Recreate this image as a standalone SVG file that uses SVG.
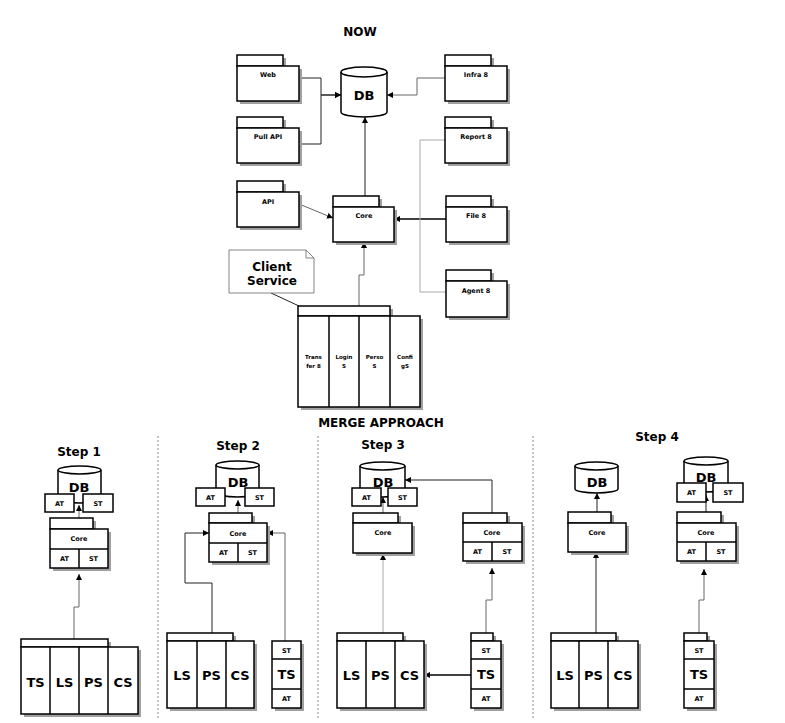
<svg xmlns="http://www.w3.org/2000/svg" width="785" height="723" viewBox="0 0 785 723">
<style>
.b{fill:#fff;stroke:#000;stroke-width:1.5}
.sh{fill:#a0a0a0}
.t{font-family:"DejaVu Sans",Verdana,sans-serif;font-weight:bold;text-anchor:middle;fill:#000}
.s{font-size:6.5px}
.xs{font-size:5.5px}
.m{font-size:12px}
.l{font-size:13px}
.c{fill:none;stroke:#222;stroke-width:1}
.g{fill:none;stroke:#666;stroke-width:1}
.lg{fill:none;stroke:#aaa;stroke-width:1}
.k{fill:none;stroke:#000;stroke-width:1.3}
.d{fill:none;stroke:#888;stroke-width:1;stroke-dasharray:2,2}
</style>
<defs>
<marker id="a" viewBox="0 0 6 6" refX="6" refY="3" markerWidth="6" markerHeight="6" markerUnits="userSpaceOnUse" orient="auto"><path d="M0,0L6,3L0,6z" fill="#000"/></marker>
</defs>
<rect width="785" height="723" fill="#fff"/>

<text class="t m" x="360" y="36">NOW</text>
<text class="t m" x="381" y="427">MERGE APPROACH</text>

<g id="dividers">
<line class="d" x1="158" y1="436" x2="158" y2="718"/>
<line class="d" x1="318" y1="436" x2="318" y2="718"/>
<line class="d" x1="533" y1="436" x2="533" y2="718"/>
</g>

<g id="connectors">
<polyline class="c" points="299,78 321,78 321,95 341,95" marker-end="url(#a)"/>
<polyline class="c" points="299,144 321,144 321,95 341,95" marker-end="url(#a)"/>
<polyline class="g" points="445,78 417,78 417,95 387,95" marker-end="url(#a)"/>
<line class="c" x1="365" y1="196" x2="365" y2="117" marker-end="url(#a)"/>
<line class="g" x1="299" y1="204" x2="333" y2="218" marker-end="url(#a)"/>
<line class="k" x1="446" y1="219" x2="394" y2="219" marker-end="url(#a)"/>
<polyline class="lg" points="445,140 420,140 420,292 446,292"/>
<polyline class="g" points="359,306 359,275 364,275 364,242" marker-end="url(#a)"/>
<line class="c" x1="271" y1="293" x2="299" y2="306"/>

<line class="g" x1="79" y1="518" x2="79" y2="505" marker-end="url(#a)"/>
<polyline class="g" points="74,639 74,607 79,607 79,574" marker-end="url(#a)"/>

<line class="g" x1="238" y1="513" x2="238" y2="500" marker-end="url(#a)"/>
<polyline class="c" points="212,633 212,583 185,583 185,533 209,533" marker-end="url(#a)"/>
<polyline class="g" points="285,641 285,533 267,533" marker-end="url(#a)"/>

<line class="g" x1="383" y1="513" x2="383" y2="497" marker-end="url(#a)"/>
<polyline class="c" points="492,513 492,480 405,480" marker-end="url(#a)"/>
<line class="lg" x1="383" y1="633" x2="383" y2="554" marker-end="url(#a)"/>
<polyline class="g" points="486,633 486,600 492,600 492,568" marker-end="url(#a)"/>
<line class="k" x1="471" y1="675" x2="424" y2="675" marker-end="url(#a)"/>

<line class="c" x1="597" y1="512" x2="597" y2="493" marker-end="url(#a)"/>
<line class="c" x1="706" y1="512" x2="706" y2="495" marker-end="url(#a)"/>
<line class="c" x1="596" y1="633" x2="596" y2="552" marker-end="url(#a)"/>
<polyline class="g" points="699,633 699,600 704,600 704,569" marker-end="url(#a)"/>
</g>

<g id="db-now">
<path class="b" d="M341,72a23,5 0 0 1 46,0V112a23,5 0 0 1 -46,0Z"/>
<path class="b" d="M341,72a23,5 0 0 0 46,0"/>
<text class="t l" x="364" y="100">DB</text>
</g>

<g id="web">
<rect class="sh" x="240" y="58" width="46" height="11"/><rect class="sh" x="240" y="69" width="62" height="35"/>
<rect class="b" x="237" y="55" width="46" height="11"/><rect class="b" x="237" y="66" width="62" height="35"/>
<text class="t s" x="268" y="77">Web</text>
</g>
<g id="pullapi">
<rect class="sh" x="240" y="120" width="46" height="11"/><rect class="sh" x="240" y="131" width="62" height="35"/>
<rect class="b" x="237" y="117" width="46" height="11"/><rect class="b" x="237" y="128" width="62" height="35"/>
<text class="t s" x="268" y="139">Pull API</text>
</g>
<g id="infra8">
<rect class="sh" x="448" y="58" width="46" height="11"/><rect class="sh" x="448" y="69" width="62" height="35"/>
<rect class="b" x="445" y="55" width="46" height="11"/><rect class="b" x="445" y="66" width="62" height="35"/>
<text class="t s" x="476" y="77">Infra 8</text>
</g>
<g id="report8">
<rect class="sh" x="448" y="120" width="46" height="11"/><rect class="sh" x="448" y="131" width="62" height="35"/>
<rect class="b" x="445" y="117" width="46" height="11"/><rect class="b" x="445" y="128" width="62" height="35"/>
<text class="t s" x="476" y="139">Report 8</text>
</g>
<g id="api">
<rect class="sh" x="240" y="184" width="46" height="11"/><rect class="sh" x="240" y="195" width="62" height="35"/>
<rect class="b" x="237" y="181" width="46" height="11"/><rect class="b" x="237" y="192" width="62" height="35"/>
<text class="t s" x="268" y="204">API</text>
</g>
<g id="core-now">
<rect class="sh" x="336" y="199" width="46" height="11"/><rect class="sh" x="336" y="210" width="61" height="35"/>
<rect class="b" x="333" y="196" width="46" height="11"/><rect class="b" x="333" y="207" width="61" height="35"/>
<text class="t s" x="364" y="218">Core</text>
</g>
<g id="file8">
<rect class="sh" x="449" y="199" width="45" height="11"/><rect class="sh" x="449" y="210" width="61" height="35"/>
<rect class="b" x="446" y="196" width="45" height="11"/><rect class="b" x="446" y="207" width="61" height="35"/>
<text class="t s" x="476" y="218">File 8</text>
</g>
<g id="agent8">
<rect class="sh" x="449" y="273" width="45" height="11"/><rect class="sh" x="449" y="284" width="61" height="36"/>
<rect class="b" x="446" y="270" width="45" height="11"/><rect class="b" x="446" y="281" width="61" height="36"/>
<text class="t s" x="476" y="293">Agent 8</text>
</g>

<g id="client-note">
<path d="M229,250H306L314,258V293H229Z" fill="#fff" stroke="#666" stroke-width="0.8"/>
<path d="M306,250V258H314" fill="none" stroke="#666" stroke-width="0.8"/>
<text class="t m" x="272" y="271">Client</text>
<text class="t m" x="272" y="285">Service</text>
</g>

<g id="client-service">
<rect class="sh" x="301" y="309" width="92" height="10"/><rect class="sh" x="301" y="319" width="122" height="91"/>
<rect class="b" x="298" y="306" width="92" height="10"/><rect class="b" x="298" y="316" width="122" height="91"/>
<line class="b" x1="329" y1="316" x2="329" y2="407"/>
<line class="b" x1="359" y1="316" x2="359" y2="407"/>
<line class="b" x1="390" y1="316" x2="390" y2="407"/>
<text class="t xs" x="313.5" y="359">Trans</text><text class="t xs" x="313.5" y="368">fer 8</text>
<text class="t xs" x="344" y="359" fill="#223">Login</text><text class="t xs" x="344" y="368">S</text>
<text class="t xs" x="374.5" y="359">Perso</text><text class="t xs" x="374.5" y="368">S</text>
<text class="t xs" x="405" y="359">Confi</text><text class="t xs" x="405" y="368">gS</text>
</g>

<!-- Step 1 -->
<text class="t m" x="79" y="456">Step 1</text>
<g id="s1-db">
<path class="b" d="M58,470a21.5,4 0 0 1 43,0V499a21.5,4 0 0 1 -43,0Z"/>
<path class="b" d="M58,470a21.5,4 0 0 0 43,0"/>
<text class="t l" x="79" y="492">DB</text>
<rect class="b" x="45" y="494" width="29" height="18"/><text class="t s" x="59.5" y="505.5">AT</text>
<rect class="b" x="83" y="494" width="30" height="18"/><text class="t s" x="98" y="505.5">ST</text>
</g>
<g id="s1-core">
<rect class="sh" x="53" y="521" width="43" height="11"/><rect class="sh" x="53" y="532" width="58" height="39"/>
<rect class="b" x="50" y="518" width="43" height="11"/><rect class="b" x="50" y="529" width="58" height="39"/>
<line class="b" x1="50" y1="549" x2="108" y2="549"/><line class="b" x1="79" y1="549" x2="79" y2="568"/>
<text class="t s" x="79" y="541">Core</text>
<text class="t s" x="64.5" y="561">AT</text><text class="t s" x="93.5" y="561">ST</text>
</g>
<g id="s1-services">
<rect class="sh" x="24" y="642" width="87" height="8"/><rect class="sh" x="24" y="650" width="117" height="67"/>
<rect class="b" x="21" y="639" width="87" height="8"/><rect class="b" x="21" y="647" width="117" height="67"/>
<line class="b" x1="50" y1="647" x2="50" y2="714"/><line class="b" x1="79" y1="647" x2="79" y2="714"/><line class="b" x1="108" y1="647" x2="108" y2="714"/>
<text class="t l" x="35.5" y="687">TS</text><text class="t l" x="64.5" y="687">LS</text><text class="t l" x="93.5" y="687">PS</text><text class="t l" x="123" y="687">CS</text>
</g>

<!-- Step 2 -->
<text class="t m" x="238" y="450">Step 2</text>
<g id="s2-db">
<path class="b" d="M216,465a21.5,4 0 0 1 43,0V493a21.5,4 0 0 1 -43,0Z"/>
<path class="b" d="M216,465a21.5,4 0 0 0 43,0"/>
<text class="t l" x="238" y="487">DB</text>
<rect class="b" x="196" y="488" width="29" height="18"/><text class="t s" x="210.5" y="499.5">AT</text>
<rect class="b" x="245" y="488" width="29" height="18"/><text class="t s" x="259.5" y="499.5">ST</text>
</g>
<g id="s2-core">
<rect class="sh" x="212" y="516" width="43" height="10"/><rect class="sh" x="212" y="526" width="58" height="39"/>
<rect class="b" x="209" y="513" width="43" height="10"/><rect class="b" x="209" y="523" width="58" height="39"/>
<line class="b" x1="209" y1="543" x2="267" y2="543"/><line class="b" x1="238" y1="543" x2="238" y2="562"/>
<text class="t s" x="238" y="535.5">Core</text>
<text class="t s" x="223.5" y="555">AT</text><text class="t s" x="252.5" y="555">ST</text>
</g>
<g id="s2-services">
<rect class="sh" x="170" y="636" width="66" height="8"/><rect class="sh" x="170" y="644" width="87" height="67"/>
<rect class="b" x="167" y="633" width="66" height="8"/><rect class="b" x="167" y="641" width="87" height="67"/>
<line class="b" x1="197" y1="641" x2="197" y2="708"/><line class="b" x1="226" y1="641" x2="226" y2="708"/>
<text class="t l" x="182" y="680">LS</text><text class="t l" x="211.5" y="680">PS</text><text class="t l" x="240" y="680">CS</text>
</g>
<g id="s2-ts">
<rect class="sh" x="275" y="644" width="29" height="67"/>
<rect class="b" x="272" y="641" width="29" height="67"/>
<line class="b" x1="272" y1="659" x2="301" y2="659"/><line class="b" x1="272" y1="689" x2="301" y2="689"/>
<text class="t s" x="286.5" y="652.5">ST</text><text class="t l" x="286.5" y="679">TS</text><text class="t s" x="286.5" y="701">AT</text>
</g>

<!-- Step 3 -->
<text class="t m" x="383" y="449">Step 3</text>
<g id="s3-db">
<path class="b" d="M360,466a22.5,4 0 0 1 45,0V493a22.5,4 0 0 1 -45,0Z"/>
<path class="b" d="M360,466a22.5,4 0 0 0 45,0"/>
<text class="t l" x="383" y="487">DB</text>
<rect class="b" x="352" y="488" width="29" height="18"/><text class="t s" x="366.5" y="499.5">AT</text>
<rect class="b" x="388" y="488" width="29" height="18"/><text class="t s" x="402.5" y="499.5">ST</text>
</g>
<g id="s3-core-left">
<rect class="sh" x="356" y="516" width="45" height="10"/><rect class="sh" x="356" y="526" width="59" height="30"/>
<rect class="b" x="353" y="513" width="45" height="10"/><rect class="b" x="353" y="523" width="59" height="30"/>
<text class="t s" x="383" y="535">Core</text>
</g>
<g id="s3-core-right">
<rect class="sh" x="466" y="516" width="44" height="10"/><rect class="sh" x="466" y="526" width="59" height="38"/>
<rect class="b" x="463" y="513" width="44" height="10"/><rect class="b" x="463" y="523" width="59" height="38"/>
<line class="b" x1="463" y1="542" x2="522" y2="542"/><line class="b" x1="492" y1="542" x2="492" y2="561"/>
<text class="t s" x="492" y="535">Core</text>
<text class="t s" x="477.5" y="554">AT</text><text class="t s" x="507" y="554">ST</text>
</g>
<g id="s3-services">
<rect class="sh" x="340" y="636" width="66" height="8"/><rect class="sh" x="340" y="644" width="87" height="67"/>
<rect class="b" x="337" y="633" width="66" height="8"/><rect class="b" x="337" y="641" width="87" height="67"/>
<line class="b" x1="366" y1="641" x2="366" y2="708"/><line class="b" x1="395" y1="641" x2="395" y2="708"/>
<text class="t l" x="351.5" y="680">LS</text><text class="t l" x="380.5" y="680">PS</text><text class="t l" x="409.5" y="680">CS</text>
</g>
<g id="s3-ts">
<rect class="sh" x="474" y="636" width="22" height="8"/><rect class="sh" x="474" y="644" width="30" height="67"/>
<rect class="b" x="471" y="633" width="22" height="8"/><rect class="b" x="471" y="641" width="30" height="67"/>
<line class="b" x1="471" y1="659" x2="501" y2="659"/><line class="b" x1="471" y1="689" x2="501" y2="689"/>
<text class="t s" x="486" y="652.5">ST</text><text class="t l" x="486" y="679">TS</text><text class="t s" x="486" y="701">AT</text>
</g>

<!-- Step 4 -->
<text class="t m" x="657" y="441">Step 4</text>
<g id="s4-db-left">
<path class="b" d="M575,466a21.5,4 0 0 1 43,0V489a21.5,4 0 0 1 -43,0Z"/>
<path class="b" d="M575,466a21.5,4 0 0 0 43,0"/>
<text class="t l" x="597" y="487">DB</text>
</g>
<g id="s4-core-left">
<rect class="sh" x="571" y="515" width="43" height="11"/><rect class="sh" x="571" y="526" width="58" height="29"/>
<rect class="b" x="568" y="512" width="43" height="11"/><rect class="b" x="568" y="523" width="58" height="29"/>
<text class="t s" x="597" y="535">Core</text>
</g>
<g id="s4-services">
<rect class="sh" x="554" y="636" width="65" height="8"/><rect class="sh" x="554" y="644" width="87" height="67"/>
<rect class="b" x="551" y="633" width="65" height="8"/><rect class="b" x="551" y="641" width="87" height="67"/>
<line class="b" x1="579" y1="641" x2="579" y2="708"/><line class="b" x1="608" y1="641" x2="608" y2="708"/>
<text class="t l" x="565" y="680">LS</text><text class="t l" x="593.5" y="680">PS</text><text class="t l" x="623" y="680">CS</text>
</g>
<g id="s4-db-right">
<path class="b" d="M684,461a22,4 0 0 1 44,0V488a22,4 0 0 1 -44,0Z"/>
<path class="b" d="M684,461a22,4 0 0 0 44,0"/>
<text class="t l" x="706" y="482">DB</text>
<rect class="b" x="677" y="483" width="29" height="19"/><text class="t s" x="691.5" y="495">AT</text>
<rect class="b" x="713" y="483" width="30" height="19"/><text class="t s" x="728" y="495">ST</text>
</g>
<g id="s4-core-right">
<rect class="sh" x="680" y="515" width="44" height="11"/><rect class="sh" x="680" y="526" width="59" height="38"/>
<rect class="b" x="677" y="512" width="44" height="11"/><rect class="b" x="677" y="523" width="59" height="38"/>
<line class="b" x1="677" y1="542" x2="736" y2="542"/><line class="b" x1="706" y1="542" x2="706" y2="561"/>
<text class="t s" x="706" y="535">Core</text>
<text class="t s" x="691.5" y="554">AT</text><text class="t s" x="721" y="554">ST</text>
</g>
<g id="s4-ts">
<rect class="sh" x="687" y="636" width="23" height="8"/><rect class="sh" x="687" y="644" width="30" height="67"/>
<rect class="b" x="684" y="633" width="23" height="8"/><rect class="b" x="684" y="641" width="30" height="67"/>
<line class="b" x1="684" y1="659" x2="714" y2="659"/><line class="b" x1="684" y1="689" x2="714" y2="689"/>
<text class="t s" x="699" y="652.5">ST</text><text class="t l" x="699" y="679">TS</text><text class="t s" x="699" y="701">AT</text>
</g>
</svg>
